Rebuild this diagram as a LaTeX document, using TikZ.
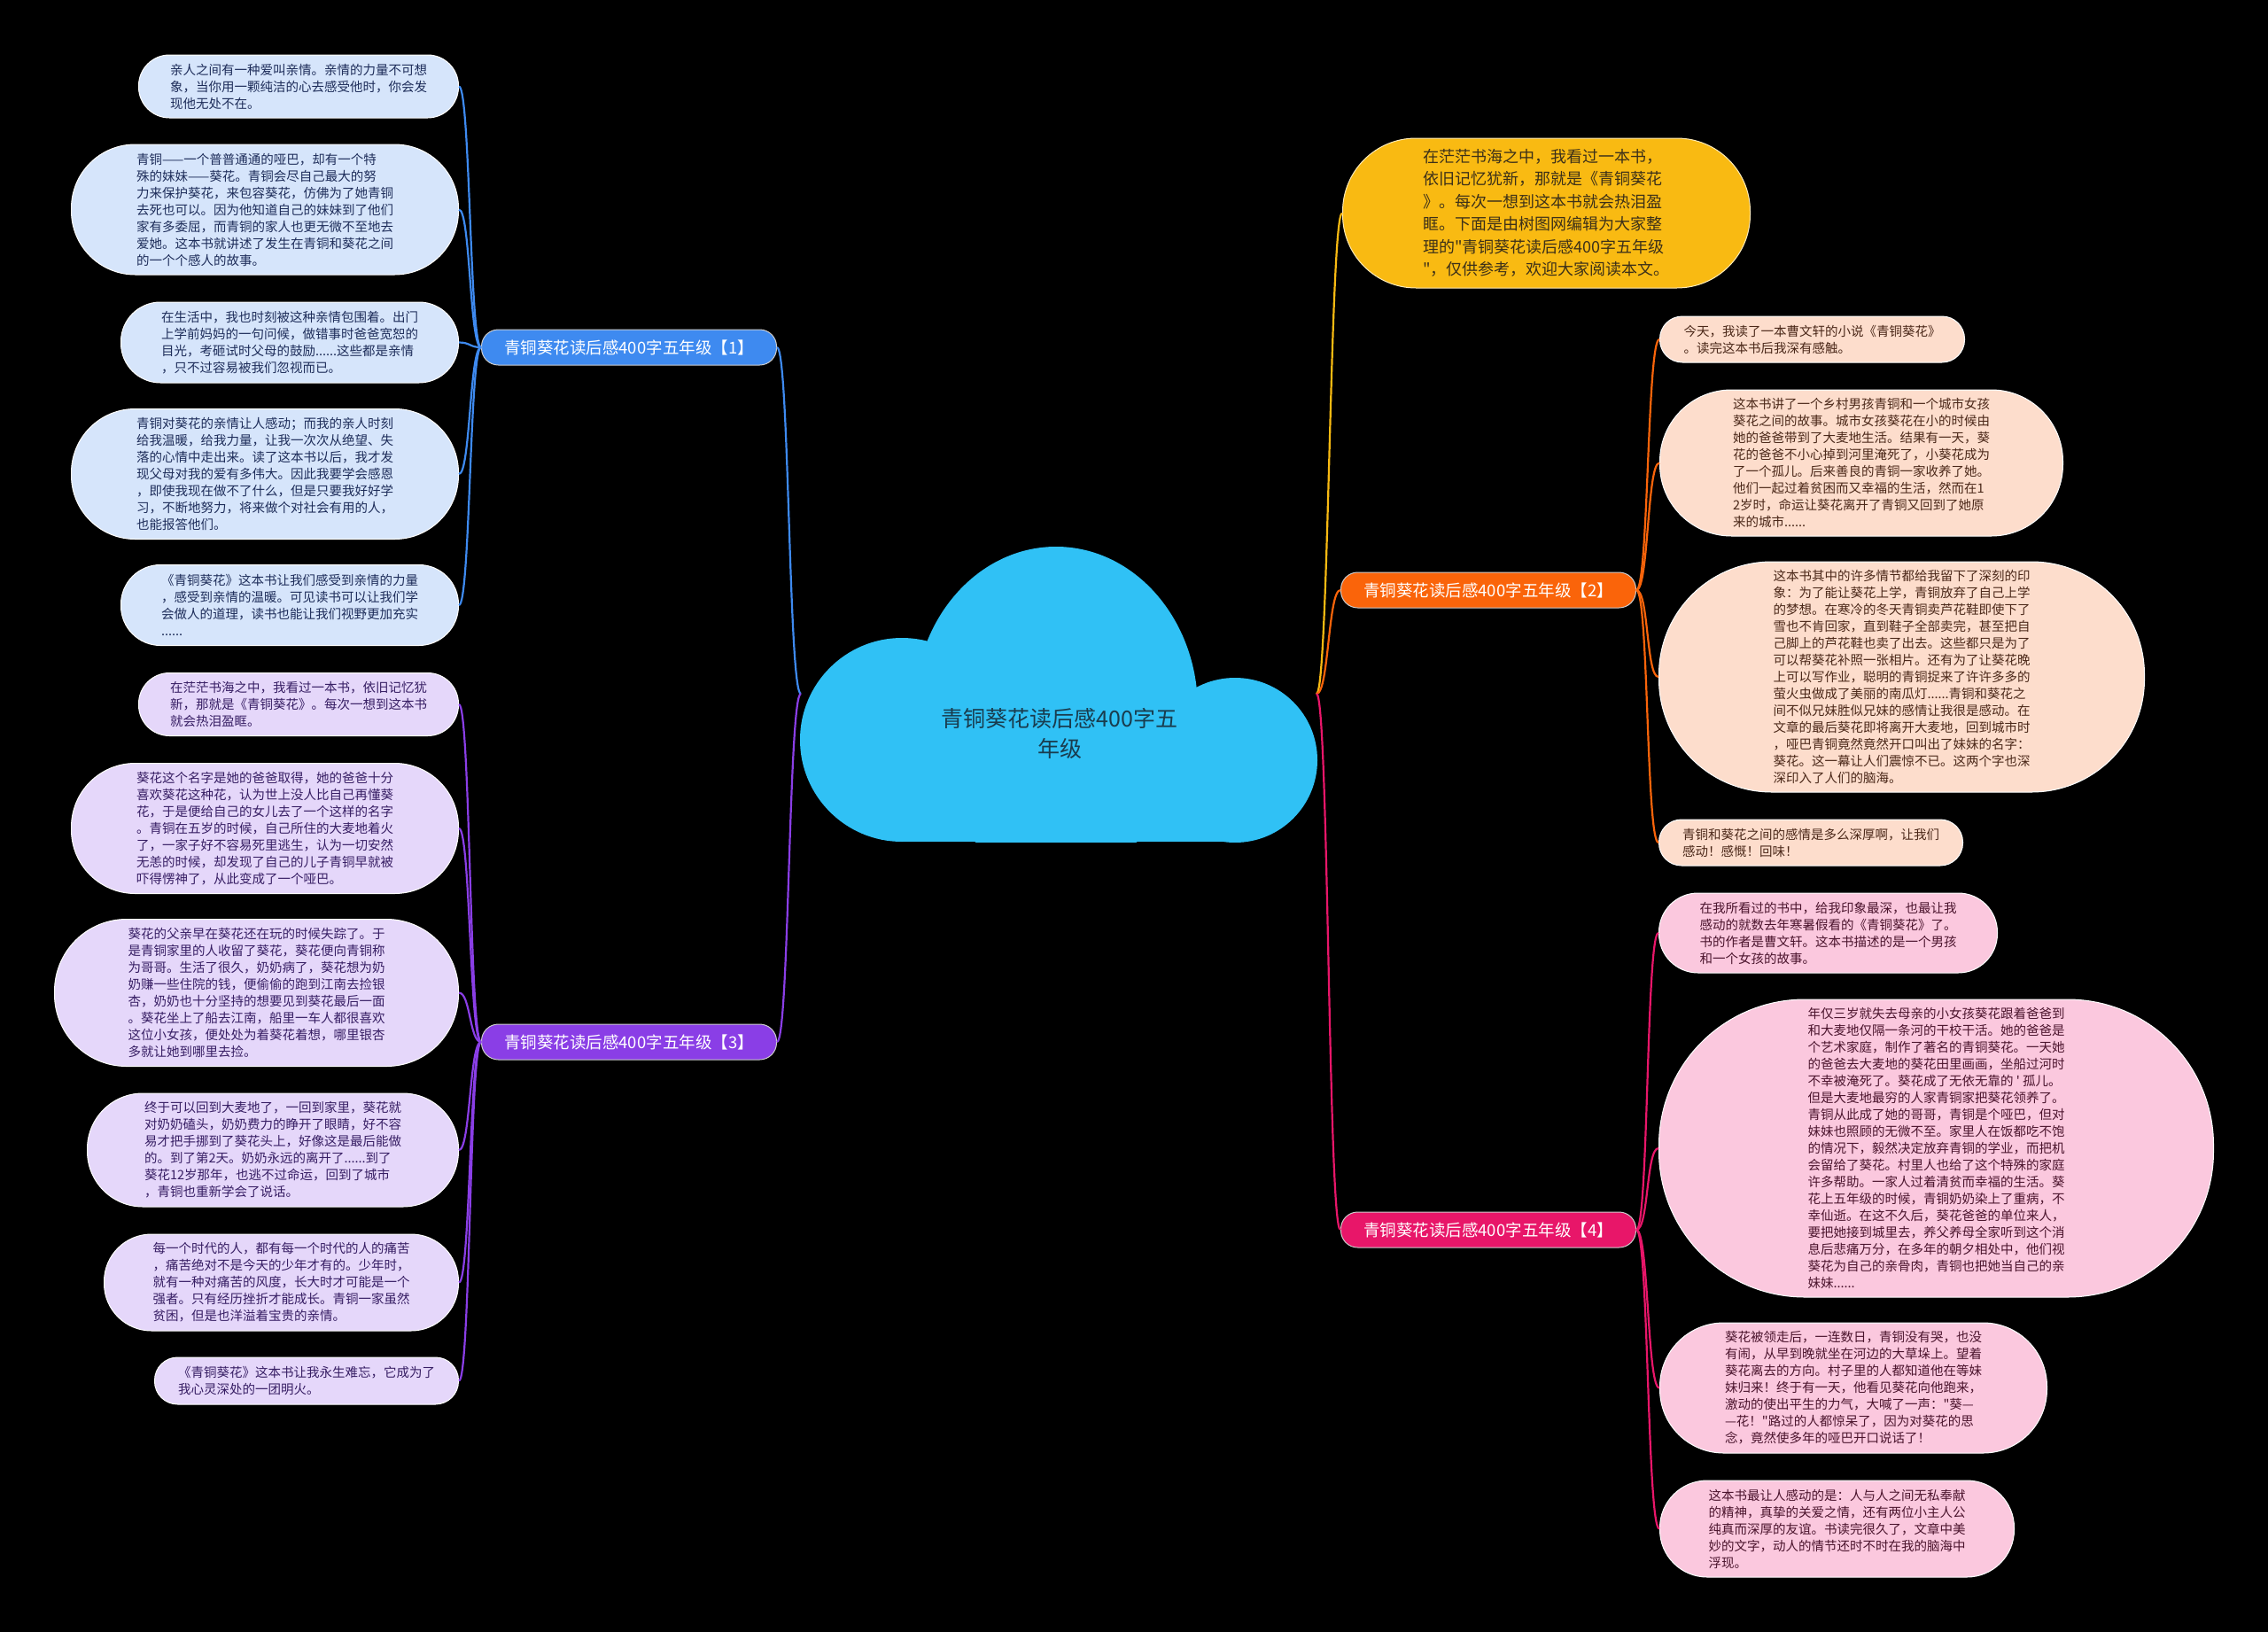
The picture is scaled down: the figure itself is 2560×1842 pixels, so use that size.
\documentclass[tikz,border=0pt]{standalone}
\usepackage{fontspec}
\setmainfont{Noto Sans CJK SC}
\newfontfamily\cjkfont{Noto Sans CJK SC}
\definecolor{CloudBlue}{RGB}{48,193,245}
\definecolor{CloudInk}{RGB}{25,60,78}
\definecolor{IntroYellow}{RGB}{249,186,18}
\definecolor{IntroInk}{RGB}{60,48,25}
\definecolor{BranchBlue}{RGB}{62,138,240}
\definecolor{LeafBlue}{RGB}{214,229,251}
\definecolor{InkBlue}{RGB}{30,45,90}
\definecolor{BranchPurple}{RGB}{138,62,230}
\definecolor{LeafPurple}{RGB}{229,215,250}
\definecolor{InkPurple}{RGB}{55,30,100}
\definecolor{BranchOrange}{RGB}{250,100,10}
\definecolor{LeafOrange}{RGB}{253,221,204}
\definecolor{InkOrange}{RGB}{75,40,25}
\definecolor{BranchPink}{RGB}{232,22,105}
\definecolor{LeafPink}{RGB}{251,200,222}
\definecolor{InkPink}{RGB}{75,20,45}
\tikzset{
  pill/.style 2 args={minimum width=#1,minimum height=#2,rounded corners=0.49*#2},
  leaf/.style={inner sep=0pt,align=left,draw=white,line width=1,font=\cjkfont\fontsize{14.5}{19}\selectfont},
  lbox/.style={leaf,fill=LeafBlue,text=InkBlue},
  vbox/.style={leaf,fill=LeafPurple,text=InkPurple},
  obox/.style={leaf,fill=LeafOrange,text=InkOrange},
  kbox/.style={leaf,fill=LeafPink,text=InkPink},
  branch/.style={inner sep=0pt,minimum width=333,minimum height=40,rounded corners=19,draw=white!80!black,line width=1,text=white,font=\cjkfont\fontsize{18.5}{22}\selectfont},
  blueline/.style={draw=BranchBlue,line width=2.2},
  purpleline/.style={draw=BranchPurple,line width=2.2},
  orangeline/.style={draw=BranchOrange,line width=2.2},
  pinkline/.style={draw=BranchPink,line width=2.2},
  yellowline/.style={draw=IntroYellow,line width=2.2},
}
\begin{document}
\begin{tikzpicture}[x=1pt,y=-1pt]
  \fill[black] (0,0) rectangle (2560,1842);
  \useasboundingbox (0,0) rectangle (2560,1842);

  \coordinate (cL) at (904,783);
  \coordinate (cR) at (1486,783);

  % branch labels
  \node[branch,fill=BranchBlue] (b1) at (710,392) {青铜葵花读后感400字五年级【1】};
  \node[branch,fill=BranchPurple] (b3) at (710,1176) {青铜葵花读后感400字五年级【3】};
  \node[branch,fill=BranchOrange] (b2) at (1680,666) {青铜葵花读后感400字五年级【2】};
  \node[branch,fill=BranchPink] (b4) at (1680,1388) {青铜葵花读后感400字五年级【4】};
  \node[leaf,pill={460}{169},fill=IntroYellow,text=IntroInk,draw=white!70!IntroYellow,
    font=\cjkfont\fontsize{18}{25.5}\selectfont,anchor=west] (intro) at (1515,240.5)
    {在茫茫书海之中，我看过一本书，\\依旧记忆犹新，那就是《青铜葵花\\》。每次一想到这本书就会热泪盈\\眶。下面是由树图网编辑为大家整\\理的"青铜葵花读后感400字五年级\\"，仅供参考，欢迎大家阅读本文。};

  % group 1
  \node[lbox,pill={361}{71},anchor=east] (b1a) at (518,97.5)
    {亲人之间有一种爱叫亲情。亲情的力量不可想\\象，当你用一颗纯洁的心去感受他时，你会发\\现他无处不在。};
  \node[lbox,pill={437}{147},anchor=east] (b1b) at (518,236.5)
    {青铜——一个普普通通的哑巴，却有一个特\\殊的妹妹——葵花。青铜会尽自己最大的努\\力来保护葵花，来包容葵花，仿佛为了她青铜\\去死也可以。因为他知道自己的妹妹到了他们\\家有多委屈，而青铜的家人也更无微不至地去\\爱她。这本书就讲述了发生在青铜和葵花之间\\的一个个感人的故事。};
  \node[lbox,pill={381}{91},anchor=east] (b1c) at (518,386.5)
    {在生活中，我也时刻被这种亲情包围着。出门\\上学前妈妈的一句问候，做错事时爸爸宽恕的\\目光，考砸试时父母的鼓励......这些都是亲情\\，只不过容易被我们忽视而已。};
  \node[lbox,pill={437}{147},anchor=east] (b1d) at (518,535)
    {青铜对葵花的亲情让人感动；而我的亲人时刻\\给我温暖，给我力量，让我一次次从绝望、失\\落的心情中走出来。读了这本书以后，我才发\\现父母对我的爱有多伟大。因此我要学会感恩\\，即使我现在做不了什么，但是只要我好好学\\习，不断地努力，将来做个对社会有用的人，\\也能报答他们。};
  \node[lbox,pill={381}{91},anchor=east] (b1e) at (518,683)
    {《青铜葵花》这本书让我们感受到亲情的力量\\，感受到亲情的温暖。可见读书可以让我们学\\会做人的道理，读书也能让我们视野更加充实\\......};

  % group 3
  \node[vbox,pill={361}{71},anchor=east] (b3a) at (518,795)
    {在茫茫书海之中，我看过一本书，依旧记忆犹\\新，那就是《青铜葵花》。每次一想到这本书\\就会热泪盈眶。};
  \node[vbox,pill={437}{147},anchor=east] (b3b) at (518,935)
    {葵花这个名字是她的爸爸取得，她的爸爸十分\\喜欢葵花这种花，认为世上没人比自己再懂葵\\花，于是便给自己的女儿去了一个这样的名字\\。青铜在五岁的时候，自己所住的大麦地着火\\了，一家子好不容易死里逃生，认为一切安然\\无恙的时候，却发现了自己的儿子青铜早就被\\吓得愣神了，从此变成了一个哑巴。};
  \node[vbox,pill={456}{166},anchor=east] (b3c) at (518,1120.5)
    {葵花的父亲早在葵花还在玩的时候失踪了。于\\是青铜家里的人收留了葵花，葵花便向青铜称\\为哥哥。生活了很久，奶奶病了，葵花想为奶\\奶赚一些住院的钱，便偷偷的跑到江南去捡银\\杏，奶奶也十分坚持的想要见到葵花最后一面\\。葵花坐上了船去江南，船里一车人都很喜欢\\这位小女孩，便处处为着葵花着想，哪里银杏\\多就让她到哪里去捡。};
  \node[vbox,pill={419}{128},anchor=east] (b3d) at (518,1298)
    {终于可以回到大麦地了，一回到家里，葵花就\\对奶奶磕头，奶奶费力的睁开了眼睛，好不容\\易才把手挪到了葵花头上，好像这是最后能做\\的。到了第2天。奶奶永远的离开了......到了\\葵花12岁那年，也逃不过命运，回到了城市\\，青铜也重新学会了说话。};
  \node[vbox,pill={400}{109},anchor=east] (b3e) at (518,1447.5)
    {每一个时代的人，都有每一个时代的人的痛苦\\，痛苦绝对不是今天的少年才有的。少年时，\\就有一种对痛苦的风度，长大时才可能是一个\\强者。只有经历挫折才能成长。青铜一家虽然\\贫困，但是也洋溢着宝贵的亲情。};
  \node[vbox,pill={343}{53},anchor=east] (b3f) at (518,1558.5)
    {《青铜葵花》这本书让我永生难忘，它成为了\\我心灵深处的一团明火。};

  % group 2
  \node[obox,pill={344}{52},anchor=west] (b2a) at (1873,383)
    {今天，我读了一本曹文轩的小说《青铜葵花》\\。读完这本书后我深有感触。};
  \node[obox,pill={455}{165},anchor=west] (b2b) at (1873,522.5)
    {这本书讲了一个乡村男孩青铜和一个城市女孩\\葵花之间的故事。城市女孩葵花在小的时候由\\她的爸爸带到了大麦地生活。结果有一天，葵\\花的爸爸不小心掉到河里淹死了，小葵花成为\\了一个孤儿。后来善良的青铜一家收养了她。\\他们一起过着贫困而又幸福的生活，然而在1\\2岁时，命运让葵花离开了青铜又回到了她原\\来的城市......};
  \node[obox,pill={548}{260},anchor=west] (b2c) at (1872,764)
    {这本书其中的许多情节都给我留下了深刻的印\\象：为了能让葵花上学，青铜放弃了自己上学\\的梦想。在寒冷的冬天青铜卖芦花鞋即使下了\\雪也不肯回家，直到鞋子全部卖完，甚至把自\\己脚上的芦花鞋也卖了出去。这些都只是为了\\可以帮葵花补照一张相片。还有为了让葵花晚\\上可以写作业，聪明的青铜捉来了许许多多的\\萤火虫做成了美丽的南瓜灯......青铜和葵花之\\间不似兄妹胜似兄妹的感情让我很是感动。在\\文章的最后葵花即将离开大麦地，回到城市时\\，哑巴青铜竟然竟然开口叫出了妹妹的名字：\\葵花。这一幕让人们震惊不已。这两个字也深\\深印入了人们的脑海。};
  \node[obox,pill={343}{52},anchor=west] (b2d) at (1872,951)
    {青铜和葵花之间的感情是多么深厚啊，让我们\\感动！感慨！回味！};

  % group 4
  \node[kbox,pill={382}{90},anchor=west] (b4a) at (1872,1053)
    {在我所看过的书中，给我印象最深，也最让我\\感动的就数去年寒暑假看的《青铜葵花》了。\\书的作者是曹文轩。这本书描述的是一个男孩\\和一个女孩的故事。};
  \node[kbox,pill={626}{336},anchor=west] (b4b) at (1872,1296)
    {年仅三岁就失去母亲的小女孩葵花跟着爸爸到\\和大麦地仅隔一条河的干校干活。她的爸爸是\\个艺术家庭，制作了著名的青铜葵花。一天她\\的爸爸去大麦地的葵花田里画画，坐船过河时\\不幸被淹死了。葵花成了无依无靠的 ' 孤儿。\\但是大麦地最穷的人家青铜家把葵花领养了。\\青铜从此成了她的哥哥，青铜是个哑巴，但对\\妹妹也照顾的无微不至。家里人在饭都吃不饱\\的情况下，毅然决定放弃青铜的学业，而把机\\会留给了葵花。村里人也给了这个特殊的家庭\\许多帮助。一家人过着清贫而幸福的生活。葵\\花上五年级的时候，青铜奶奶染上了重病，不\\幸仙逝。在这不久后，葵花爸爸的单位来人，\\要把她接到城里去，养父养母全家听到这个消\\息后悲痛万分，在多年的朝夕相处中，他们视\\葵花为自己的亲骨肉，青铜也把她当自己的亲\\妹妹......};
  \node[kbox,pill={437}{147},anchor=west] (b4c) at (1873,1566.5)
    {葵花被领走后，一连数日，青铜没有哭，也没\\有闹，从早到晚就坐在河边的大草垛上。望着\\葵花离去的方向。村子里的人都知道他在等妹\\妹归来！终于有一天，他看见葵花向他跑来，\\激动的使出平生的力气，大喊了一声："葵—\\—花！"路过的人都惊呆了，因为对葵花的思\\念，竟然使多年的哑巴开口说话了！};
  \node[kbox,pill={400}{109},anchor=west] (b4d) at (1873,1725.5)
    {这本书最让人感动的是：人与人之间无私奉献\\的精神，真挚的关爱之情，还有两位小主人公\\纯真而深厚的友谊。书读完很久了，文章中美\\妙的文字，动人的情节还时不时在我的脑海中\\浮现。};

  % connectors
  \draw[blueline] (cL) .. controls +(-14,0) and +(14,0) .. (b1.east);
  \draw[purpleline] (cL) .. controls +(-14,0) and +(14,0) .. (b3.east);
  \draw[yellowline] (cR) .. controls +(14,0) and +(-14,0) .. (intro.west);
  \draw[orangeline] (cR) .. controls +(14,0) and +(-14,0) .. (b2.west);
  \draw[pinkline] (cR) .. controls +(14,0) and +(-14,0) .. (b4.west);
  \foreach \c in {b1a,b1b,b1c,b1d,b1e}
    \draw[blueline] (b1.west) .. controls +(-13,0) and +(13,0) .. (\c.east);
  \foreach \c in {b3a,b3b,b3c,b3d,b3e,b3f}
    \draw[purpleline] (b3.west) .. controls +(-13,0) and +(13,0) .. (\c.east);
  \foreach \c in {b2a,b2b,b2c,b2d}
    \draw[orangeline] (b2.east) .. controls +(14,0) and +(-14,0) .. (\c.west);
  \foreach \c in {b4a,b4b,b4c,b4d}
    \draw[pinkline] (b4.east) .. controls +(14,0) and +(-14,0) .. (\c.west);

  % central cloud
  \begin{scope}
    \clip (880,600) rectangle (1500,950);
    \fill[CloudBlue] (1018,835) circle (115);
    \fill[CloudBlue] (1192,800) ellipse [x radius=160,y radius=183];
    \fill[CloudBlue] (1394,858) circle (93);
    \fill[CloudBlue] (1018,800) rectangle (1394,950);
  \end{scope}
  \node[align=center,text=CloudInk,font=\cjkfont\fontsize{25}{34}\selectfont] (root) at (1196,828)
    {青铜葵花读后感400字五\\年级};
\end{tikzpicture}
\end{document}
